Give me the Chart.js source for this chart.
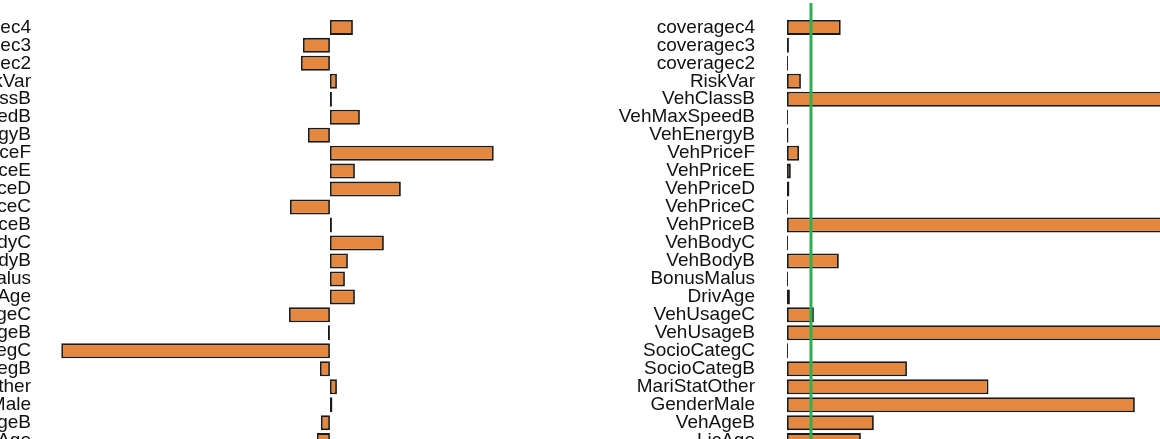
<!DOCTYPE html>
<html>
<head>
<meta charset="utf-8">
<script src="https://cdn.jsdelivr.net/npm/chart.js@4.4.1/dist/chart.umd.min.js"></script>
<style>
  html, body { margin: 0; padding: 0; background: #fff; overflow: hidden; width: 1160px; height: 439px; }
  #left { position: absolute; left: -100px; top: -6px; width: 611px; height: 480px; }
  #right { position: absolute; left: 584px; top: -6px; width: 697px; height: 480px; }
</style>
</head>
<body>
<div id="left"><canvas id="coefChart"></canvas></div>
<div id="right"><canvas id="pvalChart"></canvas></div>
<script>
const variables = ['coveragec4', 'coveragec3', 'coveragec2', 'RiskVar', 'VehClassB',
  'VehMaxSpeedB', 'VehEnergyB', 'VehPriceF', 'VehPriceE', 'VehPriceD', 'VehPriceC',
  'VehPriceB', 'VehBodyC', 'VehBodyB', 'BonusMalus', 'DrivAge', 'VehUsageC',
  'VehUsageB', 'SocioCategC', 'SocioCategB', 'MariStatOther', 'GenderMale',
  'VehAgeB', 'LicAge'];

// left panel: estimated coefficients
const coefficients = [0.23, -0.27, -0.29, 0.07, 0.02, 0.30, -0.22, 1.64, 0.25, 0.71,
  -0.40, 0.02, 0.54, 0.18, 0.15, 0.25, -0.41, -0.02, -2.69, -0.10, 0.07, 0.025,
  -0.09, -0.13];

// right panel: p-values, with 0.05 threshold line
const pValues = [0.112, 0.004, 0.002, 0.029, 0.93, 0.002, 0.003, 0.025, 0.008, 0.005,
  0.002, 0.97, 0.002, 0.108, 0.002, 0.006, 0.056, 0.88, 0.002, 0.25, 0.42, 0.725,
  0.181, 0.154];
const threshold = 0.05;

const barFill = '#E5883F';
const barEdge = '#1a1a1a';

function makeChart(id, values, min, max, axisWidth, extraPlugins) {
  return new Chart(document.getElementById(id), {
    type: 'bar',
    data: {
      labels: variables,
      datasets: [{
        data: values,
        backgroundColor: barFill,
        borderColor: barEdge,
        borderWidth: 1.8,
        borderSkipped: false,
        categoryPercentage: 1,
        barPercentage: 0.835
      }]
    },
    options: {
      indexAxis: 'y',
      responsive: true,
      maintainAspectRatio: false,
      animation: false,
      layout: { padding: 0 },
      plugins: { legend: { display: false }, tooltip: { enabled: false } },
      scales: {
        x: { display: false, min: min, max: max },
        y: {
          grid: { display: false, drawTicks: false, tickLength: 0 },
          border: { display: false },
          ticks: {
            color: '#111',
            padding: 13,
            autoSkip: false,
            font: { family: 'Liberation Sans, Arial, sans-serif', size: 19 }
          },
          afterFit: (scale) => { scale.width = axisWidth; }
        }
      }
    },
    plugins: extraPlugins || []
  });
}

const thresholdLine = {
  id: 'thresholdLine',
  afterDatasetsDraw(chart) {
    const x = chart.scales.x.getPixelForValue(threshold);
    const ctx = chart.ctx;
    ctx.save();
    ctx.strokeStyle = '#2DAF55';
    ctx.lineWidth = 3;
    ctx.beginPath();
    ctx.moveTo(x, 9);
    ctx.lineTo(x, chart.height);
    ctx.stroke();
    ctx.restore();
  }
};

makeChart('coefChart', coefficients, -2.863, 1.813, 144);
makeChart('pvalChart', pValues, -0.0396, 1.0296, 184, [thresholdLine]);
</script>
</body>
</html>
